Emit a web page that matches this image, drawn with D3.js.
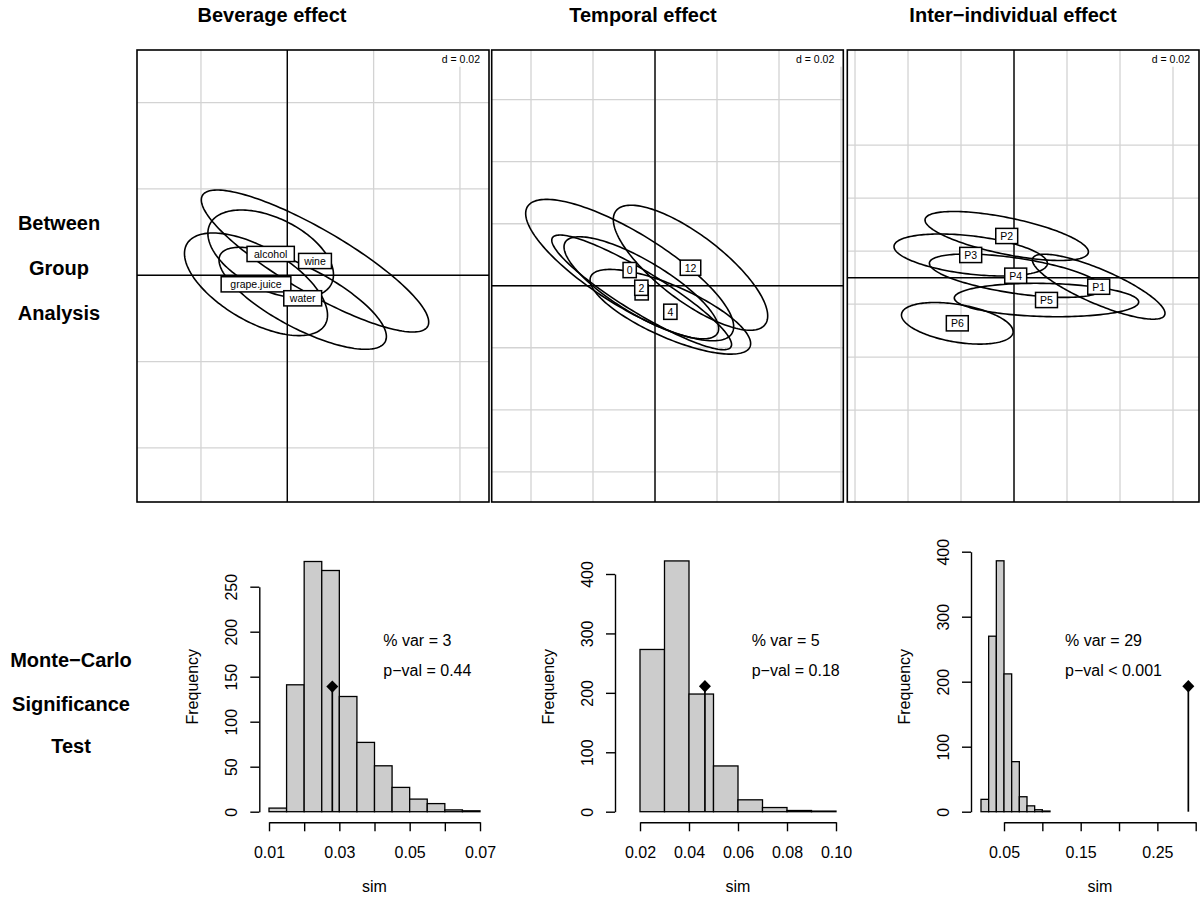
<!DOCTYPE html>
<html><head><meta charset="utf-8">
<script src="https://cdn.jsdelivr.net/npm/d3@7"></script>
<style>
body{margin:0;background:#fff}
svg{display:block}
text{font-family:"Liberation Sans",Arial,Helvetica,sans-serif;fill:#000}
</style>
</head><body>
<svg id="c" width="1200" height="906"></svg>
<script>
// ================= DATA =================
const panelTitles = ["Beverage effect", "Temporal effect", "Inter\u2212individual effect"];
const rowLabelsTop = ["Between", "Group", "Analysis"];
const rowLabelsBottom = ["Monte\u2212Carlo", "Significance", "Test"];
const scaleLabel = "d = 0.02";

// --- Between-group analysis (group means, ellipse half-extents, correlation) ---
const beverageGroups = ["alcohol", "grape.juice", "water", "wine"];
const beverageMeanX  = [-0.00385, -0.00725, 0.00357, 0.00642];
const beverageMeanY  = [0.00494, -0.00209, -0.00533, 0.00331];
const beverageSdX    = [0.01455, 0.01657, 0.01939, 0.02634];
const beverageSdY    = [0.01019, 0.01189, 0.01182, 0.01645];
const beverageCor    = [-0.47, -0.60, -0.75, -0.86];

// group "1" lies under the "2" label: only its box edge shows
const timeGroups = ["0", "1", "12", "2", "4"];
const timeLabelHidden = [false, true, false, false, false];
const timeMeanX  = [-0.00817, -0.00430, 0.01145, -0.00441, 0.00495];
const timeMeanY  = [0.00506, -0.00213, 0.00581, -0.00065, -0.00839];
const timeSdX    = [0.03355, 0.02900, 0.02490, 0.02494, 0.02590];
const timeSdY    = [0.02280, 0.01849, 0.02016, 0.01645, 0.01366];
const timeCor    = [-0.80, -0.91, -0.77, -0.80, -0.75];

const personGroups = ["P1", "P2", "P3", "P4", "P5", "P6"];
const personMeanX  = [0.03196, -0.00275, -0.01634, 0.00064, 0.01226, -0.02140];
const personMeanY  = [-0.00340, 0.01574, 0.00857, 0.00075, -0.00842, -0.01721];
const personSdX    = [0.02502, 0.03083, 0.02894, 0.03257, 0.03479, 0.02106];
const personSdY    = [0.01226, 0.00925, 0.00792, 0.00819, 0.00630, 0.00785];
const personCor    = [-0.82, -0.65, -0.40, -0.57, -0.12, -0.40];

// grid values (multiples of d)
const beverageGridX = [-0.02, 0, 0.02, 0.04];
const beverageGridY = [-0.04, -0.02, 0, 0.02, 0.04];
const timeGridX = [-0.04, -0.02, 0, 0.02, 0.04, 0.06];
const timeGridY = [-0.06, -0.04, -0.02, 0, 0.02, 0.04, 0.06];
const personGridX = [-0.06, -0.04, -0.02, 0, 0.02, 0.04, 0.06];
const personGridY = [-0.05, -0.03, -0.01, 0.01, 0.03, 0.05];

// --- Monte-Carlo histograms ---
const beverageBinEdges = [0.010, 0.015, 0.020, 0.025, 0.030, 0.035, 0.040, 0.045, 0.050, 0.055, 0.060, 0.065, 0.070];
const beverageCounts   = [4, 141, 278, 268, 128, 77, 51, 27, 14, 9, 2, 1];
const beverageObs = 0.028;
const beverageXTicks = [0.01, 0.02, 0.03, 0.04, 0.05, 0.06, 0.07];
const beverageXLabels = ["0.01", "", "0.03", "", "0.05", "", "0.07"];
const beverageYTicks = [0, 50, 100, 150, 200, 250];

const timeBinEdges = [0.02, 0.03, 0.04, 0.05, 0.06, 0.07, 0.08, 0.09, 0.10];
const timeCounts   = [273, 422, 198, 77, 20, 7, 2, 1];
const timeObs = 0.0465;
const timeXTicks = [0.02, 0.04, 0.06, 0.08, 0.10];
const timeXLabels = ["0.02", "0.04", "0.06", "0.08", "0.10"];
const timeYTicks = [0, 100, 200, 300, 400];

const personBinEdges = [0.02, 0.03, 0.04, 0.05, 0.06, 0.07, 0.08, 0.09, 0.10, 0.11];
const personCounts   = [19, 270, 386, 212, 77, 23, 9, 3, 1];
const personObs = 0.2904;
const personXTicks = [0.05, 0.10, 0.15, 0.20, 0.25, 0.30];
const personXLabels = ["0.05", "", "0.15", "", "0.25", ""];
const personYTicks = [0, 100, 200, 300, 400];

const pctVar = ["3", "5", "29"];
const pValText = ["= 0.44", "= 0.18", "< 0.001"];
const xAxisTitle = "sim";
const yAxisTitle = "Frequency";

// ================= LAYOUT =================
const svg = d3.select("#c");
const FONT = '"Liberation Sans",Arial,Helvetica,sans-serif';

const topY0 = 50, topY1 = 502;
const topPanels = [
  {x0: 137, x1: 489, xlim: [-0.03482, 0.04673], ylim: [-0.05253, 0.05220],
   groups: beverageGroups, hidden: null, mx: beverageMeanX, my: beverageMeanY, sx: beverageSdX, sy: beverageSdY, r: beverageCor,
   gx: beverageGridX, gy: beverageGridY},
  {x0: 491.7, x1: 843.3, xlim: [-0.05268, 0.06074], ylim: [-0.06974, 0.07603],
   groups: timeGroups, hidden: timeLabelHidden, mx: timeMeanX, my: timeMeanY, sx: timeSdX, sy: timeSdY, r: timeCor,
   gx: timeGridX, gy: timeGridY},
  {x0: 847.3, x1: 1199, xlim: [-0.06291, 0.06981], ylim: [-0.08464, 0.08592],
   groups: personGroups, hidden: null, mx: personMeanX, my: personMeanY, sx: personSdX, sy: personSdY, r: personCor,
   gx: personGridX, gy: personGridY}
];

topPanels.forEach((p, pi) => {
  const xs = d3.scaleLinear().domain(p.xlim).range([p.x0, p.x1]);
  const ys = d3.scaleLinear().domain(p.ylim).range([topY1, topY0]);
  const g = svg.append("g");
  const clipId = "clip" + pi;
  g.append("clipPath").attr("id", clipId).append("rect")
    .attr("x", p.x0).attr("y", topY0).attr("width", p.x1 - p.x0).attr("height", topY1 - topY0);
  const inner = g.append("g").attr("clip-path", `url(#${clipId})`);
  // grid
  inner.selectAll(".gv").data(p.gx).join("line")
    .attr("x1", d => xs(d)).attr("x2", d => xs(d)).attr("y1", topY0).attr("y2", topY1)
    .attr("stroke", "#d3d3d3").attr("stroke-width", 1.3);
  inner.selectAll(".gh").data(p.gy).join("line")
    .attr("y1", d => ys(d)).attr("y2", d => ys(d)).attr("x1", p.x0).attr("x2", p.x1)
    .attr("stroke", "#d3d3d3").attr("stroke-width", 1.3);
  // d label with white background
  const dt = inner.append("text").attr("x", p.x1 - 9).attr("y", 62.7)
    .attr("text-anchor", "end").style("font-size", "10.5px").text(scaleLabel);
  const bb = dt.node().getBBox();
  inner.insert("rect", "text").attr("x", bb.x - 3).attr("y", topY0).attr("width", p.x1 - bb.x + 3)
    .attr("height", 66.7 - topY0).attr("fill", "#fff");
  // axes through origin
  inner.append("line").attr("x1", xs(0)).attr("x2", xs(0)).attr("y1", topY0).attr("y2", topY1)
    .attr("stroke", "#000").attr("stroke-width", 1.4);
  inner.append("line").attr("y1", ys(0)).attr("y2", ys(0)).attr("x1", p.x0).attr("x2", p.x1)
    .attr("stroke", "#000").attr("stroke-width", 1.4);
  // ellipses
  const angles = d3.range(0, 360, 2).map(a => a * Math.PI / 180);
  const line = d3.line().curve(d3.curveLinearClosed);
  p.groups.forEach((name, i) => {
    const r = p.r[i], k = Math.sqrt(1 - r * r);
    const pts = angles.map(t => [
      xs(p.mx[i] + p.sx[i] * Math.cos(t)),
      ys(p.my[i] + p.sy[i] * (r * Math.cos(t) + k * Math.sin(t)))
    ]);
    inner.append("path").attr("d", line(pts)).attr("fill", "none")
      .attr("stroke", "#000").attr("stroke-width", 1.6);
  });
  // labels with boxes
  p.groups.forEach((name, i) => {
    const lg = inner.append("g");
    const cx = xs(p.mx[i]), cy = ys(p.my[i]);
    const rect = lg.append("rect");
    const t = lg.append("text").attr("x", cx).attr("y", cy + 3.8).attr("text-anchor", "middle")
      .style("font-size", "10.5px").attr("fill", "#222").text(name);
    const tw = t.node().getComputedTextLength();
    const pad = 3 + 0.12 * tw;
    rect.attr("x", cx - tw / 2 - pad).attr("y", cy - 7.6).attr("width", tw + 2 * pad).attr("height", 15.2)
      .attr("fill", "#fff").attr("stroke", "#000").attr("stroke-width", 1.5);
    if (p.hidden && p.hidden[i]) t.remove();
  });
  // frame
  g.append("rect").attr("x", p.x0).attr("y", topY0).attr("width", p.x1 - p.x0).attr("height", topY1 - topY0)
    .attr("fill", "none").attr("stroke", "#000").attr("stroke-width", 1.6);
});

// ----- titles & row labels -----
const titleX = [272, 643, 1013];
panelTitles.forEach((t, i) => {
  svg.append("text").attr("x", titleX[i]).attr("y", 22).attr("text-anchor", "middle")
    .style("font-size", "20px").style("font-weight", "bold").text(t);
});
const rowTopY = [230, 275, 320];
rowLabelsTop.forEach((t, i) => {
  svg.append("text").attr("x", 59).attr("y", rowTopY[i]).attr("text-anchor", "middle")
    .style("font-size", "20px").style("font-weight", "bold").text(t);
});
const rowBotY = [667, 711, 753];
rowLabelsBottom.forEach((t, i) => {
  svg.append("text").attr("x", 71).attr("y", rowBotY[i]).attr("text-anchor", "middle")
    .style("font-size", "20px").style("font-weight", "bold").text(t);
});

// ----- histograms -----
const axisY = 822.3, zeroY = 811.7;
const hists = [
  {edges: beverageBinEdges, counts: beverageCounts, obs: beverageObs, xt: beverageXTicks, xl: beverageXLabels, yt: beverageYTicks,
   xdom: [0.01, 0.07], xr: [269, 480], ydom: [0, 250], ytop: 586.7, yaxisX: 259.3, textX: 383.3},
  {edges: timeBinEdges, counts: timeCounts, obs: timeObs, xt: timeXTicks, xl: timeXLabels, yt: timeYTicks,
   xdom: [0.02, 0.10], xr: [640, 836], ydom: [0, 400], ytop: 574, yaxisX: 615, textX: 751.7},
  {edges: personBinEdges, counts: personCounts, obs: personObs, xt: personXTicks, xl: personXLabels, yt: personYTicks,
   xdom: [0.05, 0.30], xr: [1004, 1195.7], ydom: [0, 400], ytop: 551.7, yaxisX: 971, textX: 1065}
];

hists.forEach((h, hi) => {
  const xs = d3.scaleLinear().domain(h.xdom).range(h.xr);
  const ys = d3.scaleLinear().domain(h.ydom).range([zeroY, h.ytop]);
  const g = svg.append("g");
  // bars
  g.selectAll("rect.bar").data(h.counts).join("rect")
    .attr("x", (d, i) => xs(h.edges[i]))
    .attr("width", (d, i) => xs(h.edges[i + 1]) - xs(h.edges[i]))
    .attr("y", d => ys(d)).attr("height", d => ys(0) - ys(d))
    .attr("fill", "#cccccc").attr("stroke", "#000").attr("stroke-width", 1.3);
  // observed value
  const obsH = d3.max(h.counts) / 2;
  const ox = xs(h.obs), oy = ys(obsH);
  g.append("line").attr("x1", ox).attr("x2", ox).attr("y1", ys(0)).attr("y2", oy)
    .attr("stroke", "#000").attr("stroke-width", 1.7);
  g.append("path").attr("d", `M${ox},${oy - 6.2}L${ox + 6},${oy}L${ox},${oy + 6.2}L${ox - 6},${oy}Z`).attr("fill", "#000");
  // x axis
  const xAxis = d3.axisBottom(xs).tickValues(h.xt).tickSize(9).tickSizeOuter(0)
    .tickFormat((d, i) => h.xl[i]);
  const gx = g.append("g").attr("transform", `translate(0,${axisY})`).call(xAxis);
  gx.selectAll("path,line").attr("stroke", "#000").attr("stroke-width", 1.4);
  gx.selectAll("text").attr("y", 35.7).attr("dy", null).style("font-size", "16px").style("font-family", FONT).attr("fill", "#000");
  // y axis
  const yAxis = d3.axisLeft(ys).tickValues(h.yt).tickSize(9).tickSizeOuter(0).tickFormat(d3.format("d"));
  const gy = g.append("g").attr("transform", `translate(${h.yaxisX},0)`).call(yAxis);
  gy.selectAll("path,line").attr("stroke", "#000").attr("stroke-width", 1.4);
  gy.selectAll("text").attr("x", null).attr("dy", null).attr("text-anchor", "middle")
    .attr("transform", "translate(-22,0) rotate(-90)")
    .style("font-size", "16px").style("font-family", FONT).attr("fill", "#000");
  // axis titles
  g.append("text").attr("transform", `translate(${h.yaxisX - 61},686.7) rotate(-90)`)
    .attr("text-anchor", "middle").style("font-size", "16px").text(yAxisTitle);
  g.append("text").attr("x", (h.xr[0] + h.xr[1]) / 2).attr("y", 892).attr("text-anchor", "middle")
    .style("font-size", "16px").text(xAxisTitle);
  // stats text
  g.append("text").attr("x", h.textX).attr("y", 646).style("font-size", "16px").text(`% var = ${pctVar[hi]}`);
  g.append("text").attr("x", h.textX).attr("y", 676).style("font-size", "16px").text(`p\u2212val ${pValText[hi]}`);
});
</script>
</body></html>
